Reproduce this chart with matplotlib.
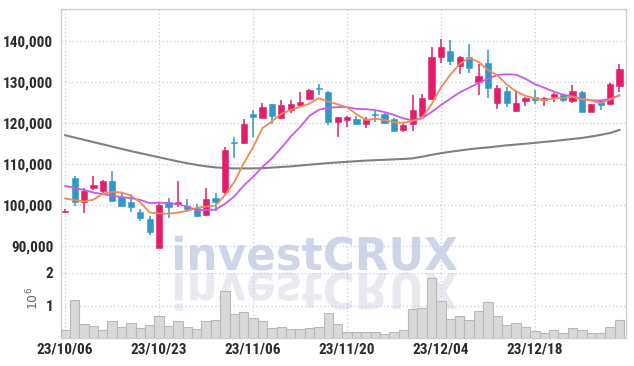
import matplotlib
matplotlib.use("Agg")
import numpy as np
import matplotlib.pyplot as plt
from matplotlib.textpath import TextPath
from matplotlib.patches import PathPatch
from matplotlib.font_manager import FontProperties
from matplotlib.transforms import Affine2D, IdentityTransform

# daily candles, 60 sessions
opens = [98400, 106500, 100900, 104100, 103500, 106000, 101900, 100700, 98400, 96600,
         89700, 100700, 100300, 99900, 99300, 97600, 101750, 103100, 115400, 115200,
         122100, 121200, 124500, 121200, 123050, 124450, 125900, 128400, 127500, 120200,
         120600, 121000, 119650, 122100, 122100, 121000, 118400, 119650, 121650, 125700,
         136050, 137500, 133850, 136050, 129950, 134600, 124850, 127700, 122900, 125300,
         126300, 125500, 126300, 126850, 125300, 127500, 122650, 125500, 124500, 128950]
highs = [99000, 107100, 104200, 107100, 106200, 108200, 102900, 102700, 99100, 97400,
         100900, 101700, 105800, 101500, 100300, 104300, 102900, 114100, 116600, 121000,
         123050, 124900, 124500, 125650, 125650, 127500, 128300, 129550, 127700, 121500,
         121800, 121800, 121400, 122800, 122300, 121200, 119800, 126700, 127100, 138500,
         140500, 140100, 136200, 139150, 134200, 137700, 129150, 128750, 127900, 126300,
         127900, 126200, 127200, 127000, 129150, 127700, 124600, 125600, 129700, 134200]
lows = [98000, 99900, 98100, 103700, 102900, 100700, 99700, 98300, 96200, 92800,
        89700, 96800, 99600, 98300, 97100, 97500, 98500, 102800, 111500, 115000,
        116550, 121200, 119800, 121000, 122400, 123850, 125800, 126700, 119550, 116700,
        119000, 119650, 118700, 120200, 119900, 118000, 117900, 118150, 121500, 125500,
        134450, 134000, 132000, 132150, 126900, 126050, 123450, 123850, 122700, 124000,
        124700, 124000, 125050, 125100, 124850, 122650, 122600, 123200, 124300, 127500]
closes = [98600, 100700, 103500, 105000, 106000, 101100, 99900, 99500, 97000, 93600,
          100100, 99500, 100850, 99200, 97300, 101500, 100700, 113500, 115200, 119800,
          121400, 123850, 121600, 124300, 124700, 125000, 127900, 128200, 120200, 121350,
          121350, 119650, 120850, 121900, 119950, 118150, 119400, 123050, 126050, 136050,
          138500, 135000, 136050, 133350, 131400, 128500, 128600, 124850, 124900, 126050,
          125650, 126050, 127100, 125500, 127700, 122650, 124500, 124250, 129550, 133200]

ma5 = [101650, 101250, 100930, 101350, 102760, 103260, 103100, 102300, 100700, 98220,
       98020, 97940, 98210, 98650, 99390, 99670, 99910, 102440, 105640, 110140,
       114120, 118750, 120370, 122190, 123170, 123890, 124700, 126020, 125200, 124530,
       123800, 122150, 120680, 121020, 120740, 120100, 120050, 120490, 121320, 124540,
       128610, 131730, 134330, 135790, 134860, 132860, 131580, 129340, 127650, 126580,
       126010, 125500, 125950, 126070, 126330, 125730, 125420, 124850, 125660, 126760]
ma10 = [104700, 104200, 103700, 103100, 102700, 102300, 102000, 101700, 101300, 100490,
        100640, 100520, 100255, 99675, 98805, 98845, 98925, 100325, 102145, 104765,
        106895, 109330, 111405, 113915, 116655, 119005, 121725, 123195, 123695, 123850,
        123845, 123425, 123350, 123110, 122635, 121950, 121100, 120585, 121170, 122640,
        124355, 125890, 127410, 128555, 129700, 130735, 131655, 131835, 131720, 130720,
        129435, 128540, 127645, 126860, 126490, 125905, 125495, 125435, 125900, 126615]
ma_long = [117000, 116450, 115900, 115350, 114800, 114250, 113700, 113150, 112650, 112150,
           111650, 111150, 110650, 110200, 109800, 109450, 109200, 109050, 108950, 108950,
           108950, 109000, 109150, 109300, 109450, 109650, 109850, 110050, 110250, 110400,
           110550, 110700, 110850, 110950, 111050, 111150, 111250, 111400, 111800, 112250,
           112650, 113000, 113300, 113600, 113850, 114050, 114300, 114550, 114750, 114950,
           115150, 115400, 115600, 115850, 116100, 116350, 116700, 117100, 117550, 118300]

volumes = [0.25, 1.18, 0.43, 0.37, 0.25, 0.53, 0.35, 0.46, 0.30, 0.40,
           0.68, 0.37, 0.53, 0.34, 0.28, 0.53, 0.56, 1.45, 0.74, 0.81,
           0.62, 0.53, 0.31, 0.34, 0.28, 0.28, 0.31, 0.34, 0.77, 0.43,
           0.20, 0.20, 0.20, 0.20, 0.12, 0.17, 0.24, 0.89, 0.92, 1.85,
           1.15, 0.58, 0.68, 0.56, 0.84, 1.10, 0.68, 0.40, 0.46, 0.34,
           0.22, 0.15, 0.25, 0.15, 0.30, 0.25, 0.15, 0.15, 0.34, 0.55]

date_ticks = [0, 10, 20, 30, 40, 50]
date_labels = ["23/10/06", "23/10/23", "23/11/06", "23/11/20", "23/12/04", "23/12/18"]
price_ticks = [90000, 100000, 110000, 120000, 130000, 140000]

UP = "#e31c6b"
DOWN = "#3196c8"
GRID = "#c9cbe0"
SPINE = "#cfcfcf"
LABEL_FONT = ["Roboto Condensed", "Roboto"]
LABEL_KW = dict(family=LABEL_FONT, fontsize=11, fontweight="bold", color="#2b2b2b")

W, H = 634, 366
fig = plt.figure(figsize=(W / 100, H / 100), dpi=100)
ax = fig.add_axes([61 / W, 1 - 273 / H, (626 - 61) / W, (273 - 9) / H])
axv = fig.add_axes([61 / W, 1 - 338 / H, (626 - 61) / W, (338 - 273) / H], sharex=ax)

# watermark + reflection, drawn in pixel space behind the axes
fp = FontProperties(family="DejaVu Sans", weight="bold")
tp = TextPath((0, 0), "investCRUX", size=1, prop=fp)
bb = tp.get_extents()
sx = 282 / bb.width
sy = 35 / bb.height
t_up = Affine2D().translate(-bb.x0, 0).scale(sx, sy).translate(175, H - 270)
t_dn = Affine2D().translate(-bb.x0, 0).scale(sx, -sy * 1.1).translate(175, H - 273)
fig.add_artist(PathPatch(t_up.transform_path(tp), transform=IdentityTransform(),
                         facecolor="#cfd5e9", edgecolor="none", zorder=-5))
fig.add_artist(PathPatch(t_dn.transform_path(tp), transform=IdentityTransform(),
                         facecolor="#e9e9f0", edgecolor="none", zorder=-5))

x = np.arange(len(closes))
o = np.array(opens)
c = np.array(closes)
colors = [UP if cc >= oo else DOWN for oo, cc in zip(o, c)]

ax.vlines(x, lows, highs, colors=colors, linewidth=1.1, zorder=3)
bottoms = np.minimum(o, c)
heights = np.maximum(np.abs(c - o), 120)
ax.bar(x, heights, bottom=bottoms, width=0.66, color=colors, edgecolor=colors,
       linewidth=0.4, zorder=4)

ax.plot(x, ma_long, color="#808080", linewidth=1.5, zorder=2)
ax.plot(x, ma10, color="#cc58ea", linewidth=1.3, zorder=5)
ax.plot(x, ma5, color="#ef8a50", linewidth=1.3, zorder=6)

ax.set_ylim(83540, 147680)
ax.set_yticks(price_ticks)
ax.set_yticklabels([f"{v:,}" for v in price_ticks], **LABEL_KW)
ax.set_xlim(-0.45, 59.7)

axv.bar(x, np.array(volumes) * 1e6, width=1.0, color="#d9d9d9",
        edgecolor="#b9b9b9", linewidth=0.8, zorder=3)
axv.set_ylim(0, 2e6)
axv.set_yticks([1e6, 2e6])
axv.set_yticklabels(["1", "2"], **LABEL_KW)
axv.set_xticks(date_ticks)
axv.set_xticklabels(date_labels, **LABEL_KW)
fig.text(33 / W, 1 - 298 / H, r"$10^6$", rotation=90, ha="center", va="center",
         fontsize=9, color="#666666")

for a in (ax, axv):
    a.set_facecolor("none")
    a.grid(True, color=GRID, linestyle=(0, (1, 2)), linewidth=0.9, zorder=0)
    a.set_axisbelow(True)
    a.tick_params(length=0, pad=5.5)
    for s in a.spines.values():
        s.set_color(SPINE)
        s.set_linewidth(1.0)
ax.tick_params(axis="x", labelbottom=False)
ax.spines["bottom"].set_visible(False)
axv.spines["top"].set_visible(False)
axv.tick_params(axis="x", pad=3)

fig.savefig("out.png", dpi=100)
